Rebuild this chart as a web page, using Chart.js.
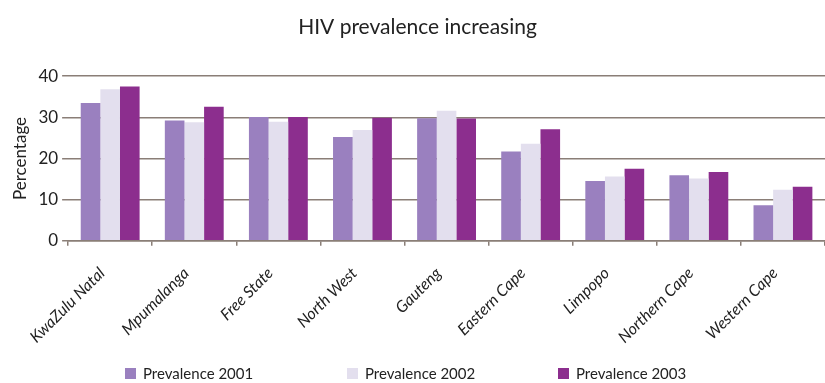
<!DOCTYPE html>
<html>
<head>
<meta charset="utf-8">
<script src="https://cdn.jsdelivr.net/npm/chart.js@4.4.1/dist/chart.umd.min.js"></script>
<style>
  html, body { margin: 0; padding: 0; background: #ffffff; }
  #wrap { width: 825px; height: 383px; position: relative; }
</style>
</head>
<body>
<div id="wrap"><canvas id="chart"></canvas></div>
<script>
// Provinces, in chart order
const provinces = ['KwaZulu Natal', 'Mpumalanga', 'Free State', 'North West', 'Gauteng',
                   'Eastern Cape', 'Limpopo', 'Northern Cape', 'Western Cape'];

// HIV prevalence (%) by year
const prevalence2001 = [33.5, 29.2, 30.1, 25.2, 29.8, 21.7, 14.5, 15.9, 8.6];
const prevalence2002 = [36.8, 28.8, 28.9, 26.9, 31.6, 23.6, 15.6, 15.1, 12.4];
const prevalence2003 = [37.5, 32.6, 30.1, 29.9, 29.7, 27.1, 17.5, 16.7, 13.1];

const seriesNames = ['Prevalence 2001', 'Prevalence 2002', 'Prevalence 2003'];
const yTicks = [0, 10, 20, 30, 40];

const FONT = 'Lato, "Open Sans", sans-serif';
const AXIS_COLOR = '#8a7e77';
const colors = ['#9a80bf', '#e3dfee', '#8c2e8e'];

// Legend drawn as a single row below the axis labels
const legendRow = {
  id: 'legendRow',
  afterDraw(chart) {
    const ctx = chart.ctx;
    const slots = [125, 347, 558];
    const y = chart.height - 10;
    ctx.save();
    ctx.font = '15px ' + FONT;
    ctx.textBaseline = 'middle';
    ctx.textAlign = 'left';
    chart.data.datasets.forEach((ds, i) => {
      ctx.fillStyle = ds.backgroundColor;
      ctx.fillRect(slots[i], y - 5, 11, 11);
      ctx.fillStyle = '#222';
      ctx.fillText(ds.label, slots[i] + 18, y + 1);
    });
    ctx.restore();
  }
};

new Chart(document.getElementById('chart'), {
  type: 'bar',
  data: {
    labels: provinces,
    datasets: [
      { label: seriesNames[0], data: prevalence2001, backgroundColor: colors[0] },
      { label: seriesNames[1], data: prevalence2002, backgroundColor: colors[1] },
      { label: seriesNames[2], data: prevalence2003, backgroundColor: colors[2] }
    ]
  },
  options: {
    responsive: true,
    maintainAspectRatio: false,
    animation: false,
    datasets: { bar: { categoryPercentage: 0.7, barPercentage: 1.0 } },
    layout: { padding: { left: 10, right: 0, top: 0, bottom: 18 } },
    plugins: {
      legend: { display: false },
      tooltip: { enabled: false },
      title: {
        display: true,
        text: 'HIV prevalence increasing',
        color: '#222',
        font: { family: FONT, size: 21, weight: 'normal' },
        padding: { top: 15, bottom: 36 }
      }
    },
    scales: {
      x: {
        grid: {
          display: true,
          drawOnChartArea: false,
          drawTicks: true,
          tickLength: 5,
          color: AXIS_COLOR,
          lineWidth: 1.5
        },
        border: { display: true, color: AXIS_COLOR, width: 1.5 },
        ticks: {
          color: '#222',
          font: { family: FONT, size: 16, style: 'italic' },
          minRotation: 45,
          maxRotation: 45,
          autoSkip: false,
          padding: 18,
          labelOffset: -8
        }
      },
      y: {
        min: 0,
        max: 40,
        afterBuildTicks(scale) { scale.ticks = yTicks.map(v => ({ value: v })); },
        grid: {
          color: AXIS_COLOR,
          lineWidth: 1.5,
          drawTicks: true,
          tickLength: 6
        },
        border: { display: false },
        ticks: {
          color: '#222',
          font: { family: FONT, size: 17 },
          padding: 4
        },
        title: {
          display: true,
          text: 'Percentage',
          color: '#222',
          font: { family: FONT, size: 17 },
          padding: { top: 0, bottom: 4 }
        }
      }
    }
  },
  plugins: [legendRow]
});
</script>
</body>
</html>
